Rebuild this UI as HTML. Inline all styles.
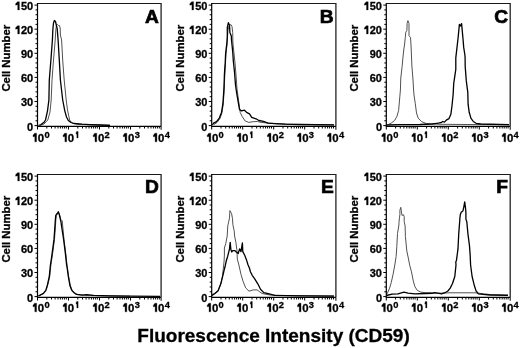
<!DOCTYPE html>
<html><head><meta charset="utf-8"><style>
html,body{margin:0;padding:0;background:#fff;}
body{width:520px;height:348px;overflow:hidden;}
svg{display:block;filter:blur(0.3px);}
text{font-family:"Liberation Sans",sans-serif;font-weight:bold;fill:#000;stroke:#000;stroke-width:0.3px;}
</style></head><body>
<svg width="520" height="348" viewBox="0 0 520 348">
<polyline points="40.00,125.50 44.00,124.00 47.80,120.00 50.00,112.00 51.20,100.00 52.00,80.00 53.50,60.00 55.20,40.00 55.80,30.00 56.50,25.00 57.50,24.50 58.50,25.50 59.40,25.40 60.20,28.00 60.40,35.00 61.60,40.00 62.70,60.00 64.20,80.00 66.20,100.00 67.50,110.00 69.60,120.00 72.00,123.00 78.00,124.30 90.00,124.80 110.00,125.20" fill="none" stroke="#505050" stroke-width="1.0" stroke-linejoin="round"/>
<polyline points="38.50,125.50 41.00,124.50 44.00,122.30 45.50,120.00 47.50,110.80 48.90,100.00 49.30,80.00 50.90,60.00 52.40,40.00 52.90,29.00 53.50,23.00 54.40,20.50 55.50,21.50 56.30,25.00 57.20,28.60 58.10,40.00 59.30,60.00 60.40,80.00 62.70,100.00 64.80,110.80 66.50,117.00 68.30,120.50 71.00,122.50 74.00,123.50 82.00,124.20 90.00,124.60 100.00,125.00 110.00,125.30" fill="none" stroke="#000" stroke-width="1.3" stroke-linejoin="round"/>
<path d="M37.5 3.5H161.1" fill="none" stroke="#1a1a1a" stroke-width="1"/>
<path d="M161.1 3.1V126.3" fill="none" stroke="#222" stroke-width="1.3"/>
<path d="M37.5 3.0V126.3H161.1" fill="none" stroke="#000" stroke-width="1.2"/>
<path d="M34.50 125.60H37.5 M35.50 120.78H37.5 M35.50 115.96H37.5 M35.50 111.14H37.5 M35.50 106.32H37.5 M34.50 101.50H37.5 M35.50 96.68H37.5 M35.50 91.86H37.5 M35.50 87.04H37.5 M35.50 82.22H37.5 M34.50 77.40H37.5 M35.50 72.58H37.5 M35.50 67.76H37.5 M35.50 62.94H37.5 M35.50 58.12H37.5 M34.50 53.30H37.5 M35.50 48.48H37.5 M35.50 43.66H37.5 M35.50 38.84H37.5 M35.50 34.02H37.5 M34.50 29.20H37.5 M35.50 24.38H37.5 M35.50 19.56H37.5 M35.50 14.74H37.5 M35.50 9.92H37.5 M34.50 5.10H37.5 M37.50 126.3V129.50 M46.80 126.3V128.50 M51.50 126.3V128.50 M55.10 126.3V128.50 M58.00 126.3V128.50 M60.40 126.3V128.50 M62.40 126.3V128.50 M64.40 126.3V128.50 M66.30 126.3V128.50 M68.50 126.3V129.50 M77.80 126.3V128.50 M82.50 126.3V128.50 M86.10 126.3V128.50 M89.00 126.3V128.50 M91.40 126.3V128.50 M93.40 126.3V128.50 M95.40 126.3V128.50 M97.30 126.3V128.50 M99.50 126.3V129.50 M108.80 126.3V128.50 M113.50 126.3V128.50 M117.10 126.3V128.50 M120.00 126.3V128.50 M122.40 126.3V128.50 M124.40 126.3V128.50 M126.40 126.3V128.50 M128.30 126.3V128.50 M130.50 126.3V129.50 M139.80 126.3V128.50 M144.50 126.3V128.50 M148.10 126.3V128.50 M151.00 126.3V128.50 M153.40 126.3V128.50 M155.40 126.3V128.50 M157.40 126.3V128.50 M159.30 126.3V128.50 M161.1 126.3V129.8" stroke="#000" stroke-width="1" fill="none"/>
<text x="33.20" y="130.50" text-anchor="end" font-size="11" font-family="Liberation Sans, sans-serif" font-weight="bold">0</text>
<text x="33.20" y="106.40" text-anchor="end" font-size="11" font-family="Liberation Sans, sans-serif" font-weight="bold">30</text>
<text x="33.20" y="82.30" text-anchor="end" font-size="11" font-family="Liberation Sans, sans-serif" font-weight="bold">60</text>
<text x="33.20" y="58.20" text-anchor="end" font-size="11" font-family="Liberation Sans, sans-serif" font-weight="bold">90</text>
<text x="33.20" y="34.10" text-anchor="end" font-size="11" font-family="Liberation Sans, sans-serif" font-weight="bold">20</text>
<polygon points="19.40,25.70 19.40,33.90 17.70,33.90 17.70,28.73 15.60,29.14 15.60,27.75 17.50,25.70" fill="#000" stroke="#000" stroke-width="0.3"/>
<text x="33.20" y="10.00" text-anchor="end" font-size="11" font-family="Liberation Sans, sans-serif" font-weight="bold">50</text>
<polygon points="19.40,1.70 19.40,9.90 17.70,9.90 17.70,4.73 15.60,5.14 15.60,3.75 17.50,1.70" fill="#000" stroke="#000" stroke-width="0.3"/>
<text x="37.77" y="142.30" font-size="11.4" font-family="Liberation Sans, sans-serif" font-weight="bold">0</text>
<polygon points="36.60,133.20 36.60,141.85 34.80,141.85 34.80,136.40 33.00,136.83 33.00,135.36 34.60,133.20" fill="#000" stroke="#000" stroke-width="0.3"/>
<text x="44.40" y="137.90" font-size="9.3" font-family="Liberation Sans, sans-serif" font-weight="bold">0</text>
<text x="67.85" y="142.30" font-size="11.4" font-family="Liberation Sans, sans-serif" font-weight="bold">0</text>
<polygon points="66.68,133.20 66.68,141.85 64.88,141.85 64.88,136.40 63.08,136.83 63.08,135.36 64.68,133.20" fill="#000" stroke="#000" stroke-width="0.3"/>
<polygon points="78.13,131.40 78.13,137.90 76.83,137.90 76.83,133.81 76.03,134.13 76.03,133.03 76.63,131.40" fill="#000" stroke="#000" stroke-width="0.3"/>
<text x="97.93" y="142.30" font-size="11.4" font-family="Liberation Sans, sans-serif" font-weight="bold">0</text>
<polygon points="96.76,133.20 96.76,141.85 94.96,141.85 94.96,136.40 93.16,136.83 93.16,135.36 94.76,133.20" fill="#000" stroke="#000" stroke-width="0.3"/>
<text x="104.56" y="137.90" font-size="9.3" font-family="Liberation Sans, sans-serif" font-weight="bold">2</text>
<text x="128.01" y="142.30" font-size="11.4" font-family="Liberation Sans, sans-serif" font-weight="bold">0</text>
<polygon points="126.84,133.20 126.84,141.85 125.04,141.85 125.04,136.40 123.24,136.83 123.24,135.36 124.84,133.20" fill="#000" stroke="#000" stroke-width="0.3"/>
<text x="134.64" y="137.90" font-size="9.3" font-family="Liberation Sans, sans-serif" font-weight="bold">3</text>
<text x="158.09" y="142.30" font-size="11.4" font-family="Liberation Sans, sans-serif" font-weight="bold">0</text>
<polygon points="156.92,133.20 156.92,141.85 155.12,141.85 155.12,136.40 153.32,136.83 153.32,135.36 154.92,133.20" fill="#000" stroke="#000" stroke-width="0.3"/>
<text x="164.72" y="137.90" font-size="9.3" font-family="Liberation Sans, sans-serif" font-weight="bold">4</text>
<text transform="translate(9.50,58.20) rotate(-90)" text-anchor="middle" font-size="11.35" font-family="Liberation Sans, sans-serif" font-weight="bold">Cell Number</text>
<text x="158.90" y="22.80" text-anchor="end" font-size="19.2" style="stroke-width:0.7px" font-family="Liberation Sans, sans-serif" font-weight="bold">A</text>
<polyline points="214.00,124.50 217.00,122.50 220.00,118.50 222.00,112.50 223.30,103.70 224.20,89.40 224.80,75.00 225.50,63.00 226.00,53.80 226.80,46.90 227.60,36.00 228.00,30.00 229.00,26.00 230.90,24.50 232.00,26.60 232.70,32.40 232.90,43.00 233.80,51.50 235.00,63.00 236.00,75.00 237.00,89.00 238.50,100.00 240.20,112.40 242.30,116.70 245.20,121.00 248.80,122.40 253.10,121.70 257.40,121.50 262.00,122.50 270.00,123.20 280.00,124.00 300.00,124.50 334.00,124.90" fill="none" stroke="#505050" stroke-width="1.0" stroke-linejoin="round"/>
<polyline points="212.50,124.80 213.60,123.10 216.50,121.70 219.30,118.10 221.50,112.40 222.90,103.70 223.90,89.40 224.40,75.00 224.60,71.00 225.20,63.00 225.60,53.80 226.40,46.90 227.00,42.00 227.30,36.00 227.30,27.30 228.40,22.70 229.50,25.20 229.90,32.40 231.30,36.00 231.50,40.00 232.70,51.50 233.30,60.70 234.50,72.00 235.50,85.00 236.50,92.00 238.00,100.90 239.50,109.50 241.60,110.90 244.50,110.20 246.60,112.40 249.50,113.80 251.70,117.40 256.00,118.80 258.90,120.50 263.50,121.30 268.00,123.10 275.00,123.60 285.40,124.20 300.00,124.50 334.00,124.80" fill="none" stroke="#000" stroke-width="1.3" stroke-linejoin="round"/>
<path d="M211.7 3.5H335.9" fill="none" stroke="#1a1a1a" stroke-width="1"/>
<path d="M335.9 3.1V126.3" fill="none" stroke="#222" stroke-width="1.3"/>
<path d="M211.7 3.0V126.3H335.9" fill="none" stroke="#000" stroke-width="1.2"/>
<path d="M208.70 125.60H211.7 M209.70 120.78H211.7 M209.70 115.96H211.7 M209.70 111.14H211.7 M209.70 106.32H211.7 M208.70 101.50H211.7 M209.70 96.68H211.7 M209.70 91.86H211.7 M209.70 87.04H211.7 M209.70 82.22H211.7 M208.70 77.40H211.7 M209.70 72.58H211.7 M209.70 67.76H211.7 M209.70 62.94H211.7 M209.70 58.12H211.7 M208.70 53.30H211.7 M209.70 48.48H211.7 M209.70 43.66H211.7 M209.70 38.84H211.7 M209.70 34.02H211.7 M208.70 29.20H211.7 M209.70 24.38H211.7 M209.70 19.56H211.7 M209.70 14.74H211.7 M209.70 9.92H211.7 M208.70 5.10H211.7 M211.70 126.3V129.50 M221.00 126.3V128.50 M225.70 126.3V128.50 M229.30 126.3V128.50 M232.20 126.3V128.50 M234.60 126.3V128.50 M236.60 126.3V128.50 M238.60 126.3V128.50 M240.50 126.3V128.50 M242.70 126.3V129.50 M252.00 126.3V128.50 M256.70 126.3V128.50 M260.30 126.3V128.50 M263.20 126.3V128.50 M265.60 126.3V128.50 M267.60 126.3V128.50 M269.60 126.3V128.50 M271.50 126.3V128.50 M273.70 126.3V129.50 M283.00 126.3V128.50 M287.70 126.3V128.50 M291.30 126.3V128.50 M294.20 126.3V128.50 M296.60 126.3V128.50 M298.60 126.3V128.50 M300.60 126.3V128.50 M302.50 126.3V128.50 M304.70 126.3V129.50 M314.00 126.3V128.50 M318.70 126.3V128.50 M322.30 126.3V128.50 M325.20 126.3V128.50 M327.60 126.3V128.50 M329.60 126.3V128.50 M331.60 126.3V128.50 M333.50 126.3V128.50 M335.9 126.3V129.8" stroke="#000" stroke-width="1" fill="none"/>
<text x="207.40" y="130.50" text-anchor="end" font-size="11" font-family="Liberation Sans, sans-serif" font-weight="bold">0</text>
<text x="207.40" y="106.40" text-anchor="end" font-size="11" font-family="Liberation Sans, sans-serif" font-weight="bold">30</text>
<text x="207.40" y="82.30" text-anchor="end" font-size="11" font-family="Liberation Sans, sans-serif" font-weight="bold">60</text>
<text x="207.40" y="58.20" text-anchor="end" font-size="11" font-family="Liberation Sans, sans-serif" font-weight="bold">90</text>
<text x="207.40" y="34.10" text-anchor="end" font-size="11" font-family="Liberation Sans, sans-serif" font-weight="bold">20</text>
<polygon points="193.60,25.70 193.60,33.90 191.90,33.90 191.90,28.73 189.80,29.14 189.80,27.75 191.70,25.70" fill="#000" stroke="#000" stroke-width="0.3"/>
<text x="207.40" y="10.00" text-anchor="end" font-size="11" font-family="Liberation Sans, sans-serif" font-weight="bold">50</text>
<polygon points="193.60,1.70 193.60,9.90 191.90,9.90 191.90,4.73 189.80,5.14 189.80,3.75 191.70,1.70" fill="#000" stroke="#000" stroke-width="0.3"/>
<text x="211.97" y="142.30" font-size="11.4" font-family="Liberation Sans, sans-serif" font-weight="bold">0</text>
<polygon points="210.80,133.20 210.80,141.85 209.00,141.85 209.00,136.40 207.20,136.83 207.20,135.36 208.80,133.20" fill="#000" stroke="#000" stroke-width="0.3"/>
<text x="218.60" y="137.90" font-size="9.3" font-family="Liberation Sans, sans-serif" font-weight="bold">0</text>
<text x="242.05" y="142.30" font-size="11.4" font-family="Liberation Sans, sans-serif" font-weight="bold">0</text>
<polygon points="240.88,133.20 240.88,141.85 239.08,141.85 239.08,136.40 237.28,136.83 237.28,135.36 238.88,133.20" fill="#000" stroke="#000" stroke-width="0.3"/>
<polygon points="252.33,131.40 252.33,137.90 251.03,137.90 251.03,133.81 250.23,134.13 250.23,133.03 250.83,131.40" fill="#000" stroke="#000" stroke-width="0.3"/>
<text x="272.13" y="142.30" font-size="11.4" font-family="Liberation Sans, sans-serif" font-weight="bold">0</text>
<polygon points="270.96,133.20 270.96,141.85 269.16,141.85 269.16,136.40 267.36,136.83 267.36,135.36 268.96,133.20" fill="#000" stroke="#000" stroke-width="0.3"/>
<text x="278.76" y="137.90" font-size="9.3" font-family="Liberation Sans, sans-serif" font-weight="bold">2</text>
<text x="302.21" y="142.30" font-size="11.4" font-family="Liberation Sans, sans-serif" font-weight="bold">0</text>
<polygon points="301.04,133.20 301.04,141.85 299.24,141.85 299.24,136.40 297.44,136.83 297.44,135.36 299.04,133.20" fill="#000" stroke="#000" stroke-width="0.3"/>
<text x="308.84" y="137.90" font-size="9.3" font-family="Liberation Sans, sans-serif" font-weight="bold">3</text>
<text x="332.29" y="142.30" font-size="11.4" font-family="Liberation Sans, sans-serif" font-weight="bold">0</text>
<polygon points="331.12,133.20 331.12,141.85 329.32,141.85 329.32,136.40 327.52,136.83 327.52,135.36 329.12,133.20" fill="#000" stroke="#000" stroke-width="0.3"/>
<text x="338.92" y="137.90" font-size="9.3" font-family="Liberation Sans, sans-serif" font-weight="bold">4</text>
<text transform="translate(183.70,58.20) rotate(-90)" text-anchor="middle" font-size="11.35" font-family="Liberation Sans, sans-serif" font-weight="bold">Cell Number</text>
<text x="333.70" y="22.80" text-anchor="end" font-size="19.2" style="stroke-width:0.7px" font-family="Liberation Sans, sans-serif" font-weight="bold">B</text>
<polyline points="388.30,124.50 391.70,122.80 394.60,120.50 396.90,116.40 398.60,110.70 399.80,96.90 400.40,90.00 400.80,78.00 402.10,66.60 403.20,55.00 404.00,47.90 404.50,45.00 405.30,37.40 405.80,32.20 406.90,30.50 407.10,23.60 407.90,20.60 409.00,23.60 409.00,35.70 410.50,37.40 411.00,45.00 411.10,47.00 411.90,66.00 413.00,80.00 413.60,90.00 414.00,95.00 415.30,103.80 416.50,113.00 418.20,118.20 421.60,121.60 426.20,123.50 440.00,124.30 509.00,124.80" fill="none" stroke="#505050" stroke-width="1.0" stroke-linejoin="round"/>
<polyline points="386.50,125.00 400.00,124.70 420.00,124.50 432.30,124.00 436.90,123.30 441.00,122.70 442.70,121.50 444.40,122.10 446.70,119.80 449.00,118.60 450.80,114.60 451.90,106.50 453.10,95.00 453.70,83.70 455.80,69.40 455.80,57.90 457.00,47.40 458.00,38.70 459.40,24.40 460.50,26.00 461.60,23.60 463.00,38.70 463.70,47.40 464.90,55.00 465.10,57.40 465.20,66.50 466.30,80.90 467.80,92.40 468.10,104.20 469.20,112.30 470.90,118.10 473.30,121.50 476.10,123.30 480.70,124.00 509.00,124.60" fill="none" stroke="#000" stroke-width="1.3" stroke-linejoin="round"/>
<path d="M386.3 3.5H510.2" fill="none" stroke="#1a1a1a" stroke-width="1"/>
<path d="M510.2 3.1V126.3" fill="none" stroke="#222" stroke-width="1.3"/>
<path d="M386.3 3.0V126.3H510.2" fill="none" stroke="#000" stroke-width="1.2"/>
<path d="M383.30 125.60H386.3 M384.30 120.78H386.3 M384.30 115.96H386.3 M384.30 111.14H386.3 M384.30 106.32H386.3 M383.30 101.50H386.3 M384.30 96.68H386.3 M384.30 91.86H386.3 M384.30 87.04H386.3 M384.30 82.22H386.3 M383.30 77.40H386.3 M384.30 72.58H386.3 M384.30 67.76H386.3 M384.30 62.94H386.3 M384.30 58.12H386.3 M383.30 53.30H386.3 M384.30 48.48H386.3 M384.30 43.66H386.3 M384.30 38.84H386.3 M384.30 34.02H386.3 M383.30 29.20H386.3 M384.30 24.38H386.3 M384.30 19.56H386.3 M384.30 14.74H386.3 M384.30 9.92H386.3 M383.30 5.10H386.3 M386.30 126.3V129.50 M395.60 126.3V128.50 M400.30 126.3V128.50 M403.90 126.3V128.50 M406.80 126.3V128.50 M409.20 126.3V128.50 M411.20 126.3V128.50 M413.20 126.3V128.50 M415.10 126.3V128.50 M417.30 126.3V129.50 M426.60 126.3V128.50 M431.30 126.3V128.50 M434.90 126.3V128.50 M437.80 126.3V128.50 M440.20 126.3V128.50 M442.20 126.3V128.50 M444.20 126.3V128.50 M446.10 126.3V128.50 M448.30 126.3V129.50 M457.60 126.3V128.50 M462.30 126.3V128.50 M465.90 126.3V128.50 M468.80 126.3V128.50 M471.20 126.3V128.50 M473.20 126.3V128.50 M475.20 126.3V128.50 M477.10 126.3V128.50 M479.30 126.3V129.50 M488.60 126.3V128.50 M493.30 126.3V128.50 M496.90 126.3V128.50 M499.80 126.3V128.50 M502.20 126.3V128.50 M504.20 126.3V128.50 M506.20 126.3V128.50 M508.10 126.3V128.50 M510.2 126.3V129.8" stroke="#000" stroke-width="1" fill="none"/>
<text x="382.00" y="130.50" text-anchor="end" font-size="11" font-family="Liberation Sans, sans-serif" font-weight="bold">0</text>
<text x="382.00" y="106.40" text-anchor="end" font-size="11" font-family="Liberation Sans, sans-serif" font-weight="bold">30</text>
<text x="382.00" y="82.30" text-anchor="end" font-size="11" font-family="Liberation Sans, sans-serif" font-weight="bold">60</text>
<text x="382.00" y="58.20" text-anchor="end" font-size="11" font-family="Liberation Sans, sans-serif" font-weight="bold">90</text>
<text x="382.00" y="34.10" text-anchor="end" font-size="11" font-family="Liberation Sans, sans-serif" font-weight="bold">20</text>
<polygon points="368.20,25.70 368.20,33.90 366.50,33.90 366.50,28.73 364.40,29.14 364.40,27.75 366.30,25.70" fill="#000" stroke="#000" stroke-width="0.3"/>
<text x="382.00" y="10.00" text-anchor="end" font-size="11" font-family="Liberation Sans, sans-serif" font-weight="bold">50</text>
<polygon points="368.20,1.70 368.20,9.90 366.50,9.90 366.50,4.73 364.40,5.14 364.40,3.75 366.30,1.70" fill="#000" stroke="#000" stroke-width="0.3"/>
<text x="386.57" y="142.30" font-size="11.4" font-family="Liberation Sans, sans-serif" font-weight="bold">0</text>
<polygon points="385.40,133.20 385.40,141.85 383.60,141.85 383.60,136.40 381.80,136.83 381.80,135.36 383.40,133.20" fill="#000" stroke="#000" stroke-width="0.3"/>
<text x="393.20" y="137.90" font-size="9.3" font-family="Liberation Sans, sans-serif" font-weight="bold">0</text>
<text x="416.65" y="142.30" font-size="11.4" font-family="Liberation Sans, sans-serif" font-weight="bold">0</text>
<polygon points="415.48,133.20 415.48,141.85 413.68,141.85 413.68,136.40 411.88,136.83 411.88,135.36 413.48,133.20" fill="#000" stroke="#000" stroke-width="0.3"/>
<polygon points="426.93,131.40 426.93,137.90 425.63,137.90 425.63,133.81 424.83,134.13 424.83,133.03 425.43,131.40" fill="#000" stroke="#000" stroke-width="0.3"/>
<text x="446.73" y="142.30" font-size="11.4" font-family="Liberation Sans, sans-serif" font-weight="bold">0</text>
<polygon points="445.56,133.20 445.56,141.85 443.76,141.85 443.76,136.40 441.96,136.83 441.96,135.36 443.56,133.20" fill="#000" stroke="#000" stroke-width="0.3"/>
<text x="453.36" y="137.90" font-size="9.3" font-family="Liberation Sans, sans-serif" font-weight="bold">2</text>
<text x="476.81" y="142.30" font-size="11.4" font-family="Liberation Sans, sans-serif" font-weight="bold">0</text>
<polygon points="475.64,133.20 475.64,141.85 473.84,141.85 473.84,136.40 472.04,136.83 472.04,135.36 473.64,133.20" fill="#000" stroke="#000" stroke-width="0.3"/>
<text x="483.44" y="137.90" font-size="9.3" font-family="Liberation Sans, sans-serif" font-weight="bold">3</text>
<text x="506.89" y="142.30" font-size="11.4" font-family="Liberation Sans, sans-serif" font-weight="bold">0</text>
<polygon points="505.72,133.20 505.72,141.85 503.92,141.85 503.92,136.40 502.12,136.83 502.12,135.36 503.72,133.20" fill="#000" stroke="#000" stroke-width="0.3"/>
<text x="513.52" y="137.90" font-size="9.3" font-family="Liberation Sans, sans-serif" font-weight="bold">4</text>
<text transform="translate(358.30,58.20) rotate(-90)" text-anchor="middle" font-size="11.35" font-family="Liberation Sans, sans-serif" font-weight="bold">Cell Number</text>
<text x="508.00" y="22.80" text-anchor="end" font-size="19.2" style="stroke-width:0.7px" font-family="Liberation Sans, sans-serif" font-weight="bold">C</text>
<polyline points="39.00,296.00 41.50,294.50 44.00,292.80 46.30,289.80 48.00,284.00 49.80,276.00 50.90,265.00 52.60,253.70 54.50,239.40 55.50,225.00 55.90,219.40 56.30,215.40 57.00,214.50 57.80,213.00 58.60,212.50 59.80,215.50 60.80,219.40 62.20,220.80 62.60,225.00 64.00,239.40 65.80,253.70 67.00,265.00 68.70,276.50 70.40,285.80 72.20,290.40 74.50,292.70 77.00,294.40 85.00,295.30 100.00,295.80 130.00,296.20" fill="none" stroke="#505050" stroke-width="1.0" stroke-linejoin="round"/>
<polyline points="38.30,296.00 40.60,294.80 43.50,293.30 45.80,290.40 47.50,284.60 49.30,276.50 50.40,265.00 51.50,258.00 52.10,253.70 54.00,239.40 55.00,225.00 55.40,219.40 55.80,215.40 56.80,214.00 57.50,213.00 58.30,211.80 59.40,215.00 60.40,219.40 61.00,222.00 61.40,225.00 63.60,239.40 65.40,253.70 66.60,265.00 67.20,268.10 68.30,276.50 70.00,285.80 71.80,290.40 74.10,292.70 76.40,294.40 82.10,295.20 86.70,294.60 93.70,295.30 110.00,295.80 130.00,296.20 160.00,296.30" fill="none" stroke="#000" stroke-width="1.3" stroke-linejoin="round"/>
<path d="M37.5 174.5H161.1" fill="none" stroke="#1a1a1a" stroke-width="1"/>
<path d="M161.1 174.1V297.3" fill="none" stroke="#222" stroke-width="1.3"/>
<path d="M37.5 174.0V297.3H161.1" fill="none" stroke="#000" stroke-width="1.2"/>
<path d="M34.50 296.60H37.5 M35.50 291.78H37.5 M35.50 286.96H37.5 M35.50 282.14H37.5 M35.50 277.32H37.5 M34.50 272.50H37.5 M35.50 267.68H37.5 M35.50 262.86H37.5 M35.50 258.04H37.5 M35.50 253.22H37.5 M34.50 248.40H37.5 M35.50 243.58H37.5 M35.50 238.76H37.5 M35.50 233.94H37.5 M35.50 229.12H37.5 M34.50 224.30H37.5 M35.50 219.48H37.5 M35.50 214.66H37.5 M35.50 209.84H37.5 M35.50 205.02H37.5 M34.50 200.20H37.5 M35.50 195.38H37.5 M35.50 190.56H37.5 M35.50 185.74H37.5 M35.50 180.92H37.5 M34.50 176.10H37.5 M37.50 297.3V300.50 M46.80 297.3V299.50 M51.50 297.3V299.50 M55.10 297.3V299.50 M58.00 297.3V299.50 M60.40 297.3V299.50 M62.40 297.3V299.50 M64.40 297.3V299.50 M66.30 297.3V299.50 M68.50 297.3V300.50 M77.80 297.3V299.50 M82.50 297.3V299.50 M86.10 297.3V299.50 M89.00 297.3V299.50 M91.40 297.3V299.50 M93.40 297.3V299.50 M95.40 297.3V299.50 M97.30 297.3V299.50 M99.50 297.3V300.50 M108.80 297.3V299.50 M113.50 297.3V299.50 M117.10 297.3V299.50 M120.00 297.3V299.50 M122.40 297.3V299.50 M124.40 297.3V299.50 M126.40 297.3V299.50 M128.30 297.3V299.50 M130.50 297.3V300.50 M139.80 297.3V299.50 M144.50 297.3V299.50 M148.10 297.3V299.50 M151.00 297.3V299.50 M153.40 297.3V299.50 M155.40 297.3V299.50 M157.40 297.3V299.50 M159.30 297.3V299.50 M161.1 297.3V300.8" stroke="#000" stroke-width="1" fill="none"/>
<text x="33.20" y="301.50" text-anchor="end" font-size="11" font-family="Liberation Sans, sans-serif" font-weight="bold">0</text>
<text x="33.20" y="277.40" text-anchor="end" font-size="11" font-family="Liberation Sans, sans-serif" font-weight="bold">30</text>
<text x="33.20" y="253.30" text-anchor="end" font-size="11" font-family="Liberation Sans, sans-serif" font-weight="bold">60</text>
<text x="33.20" y="229.20" text-anchor="end" font-size="11" font-family="Liberation Sans, sans-serif" font-weight="bold">90</text>
<text x="33.20" y="205.10" text-anchor="end" font-size="11" font-family="Liberation Sans, sans-serif" font-weight="bold">20</text>
<polygon points="19.40,196.70 19.40,204.90 17.70,204.90 17.70,199.73 15.60,200.14 15.60,198.75 17.50,196.70" fill="#000" stroke="#000" stroke-width="0.3"/>
<text x="33.20" y="181.00" text-anchor="end" font-size="11" font-family="Liberation Sans, sans-serif" font-weight="bold">50</text>
<polygon points="19.40,172.70 19.40,180.90 17.70,180.90 17.70,175.73 15.60,176.14 15.60,174.75 17.50,172.70" fill="#000" stroke="#000" stroke-width="0.3"/>
<text x="37.77" y="312.30" font-size="11.4" font-family="Liberation Sans, sans-serif" font-weight="bold">0</text>
<polygon points="36.60,303.20 36.60,311.85 34.80,311.85 34.80,306.40 33.00,306.83 33.00,305.36 34.60,303.20" fill="#000" stroke="#000" stroke-width="0.3"/>
<text x="44.40" y="307.90" font-size="9.3" font-family="Liberation Sans, sans-serif" font-weight="bold">0</text>
<text x="67.85" y="312.30" font-size="11.4" font-family="Liberation Sans, sans-serif" font-weight="bold">0</text>
<polygon points="66.68,303.20 66.68,311.85 64.88,311.85 64.88,306.40 63.08,306.83 63.08,305.36 64.68,303.20" fill="#000" stroke="#000" stroke-width="0.3"/>
<polygon points="78.13,301.40 78.13,307.90 76.83,307.90 76.83,303.80 76.03,304.13 76.03,303.02 76.63,301.40" fill="#000" stroke="#000" stroke-width="0.3"/>
<text x="97.93" y="312.30" font-size="11.4" font-family="Liberation Sans, sans-serif" font-weight="bold">0</text>
<polygon points="96.76,303.20 96.76,311.85 94.96,311.85 94.96,306.40 93.16,306.83 93.16,305.36 94.76,303.20" fill="#000" stroke="#000" stroke-width="0.3"/>
<text x="104.56" y="307.90" font-size="9.3" font-family="Liberation Sans, sans-serif" font-weight="bold">2</text>
<text x="128.01" y="312.30" font-size="11.4" font-family="Liberation Sans, sans-serif" font-weight="bold">0</text>
<polygon points="126.84,303.20 126.84,311.85 125.04,311.85 125.04,306.40 123.24,306.83 123.24,305.36 124.84,303.20" fill="#000" stroke="#000" stroke-width="0.3"/>
<text x="134.64" y="307.90" font-size="9.3" font-family="Liberation Sans, sans-serif" font-weight="bold">3</text>
<text x="158.09" y="312.30" font-size="11.4" font-family="Liberation Sans, sans-serif" font-weight="bold">0</text>
<polygon points="156.92,303.20 156.92,311.85 155.12,311.85 155.12,306.40 153.32,306.83 153.32,305.36 154.92,303.20" fill="#000" stroke="#000" stroke-width="0.3"/>
<text x="164.72" y="307.90" font-size="9.3" font-family="Liberation Sans, sans-serif" font-weight="bold">4</text>
<text transform="translate(9.50,229.20) rotate(-90)" text-anchor="middle" font-size="11.35" font-family="Liberation Sans, sans-serif" font-weight="bold">Cell Number</text>
<text x="158.90" y="193.10" text-anchor="end" font-size="19.2" style="stroke-width:0.7px" font-family="Liberation Sans, sans-serif" font-weight="bold">D</text>
<polyline points="212.00,294.60 214.70,293.30 218.10,290.60 220.80,283.80 222.30,277.00 223.30,268.80 224.00,262.00 224.40,255.00 224.40,248.00 225.80,243.40 227.20,236.00 227.80,225.70 228.60,222.20 229.50,217.90 229.90,210.60 231.60,213.60 232.50,218.80 232.90,224.80 234.20,230.90 234.60,236.00 235.90,242.40 236.90,249.80 237.30,259.00 238.90,265.00 241.00,274.40 243.00,281.20 245.70,287.90 249.00,291.20 253.10,289.90 257.10,289.90 259.80,291.90 262.00,293.50 270.00,295.00 290.00,295.60 334.00,296.00" fill="none" stroke="#505050" stroke-width="1.0" stroke-linejoin="round"/>
<polyline points="212.00,295.50 214.70,293.80 218.10,290.80 220.80,283.80 222.80,275.80 224.40,269.00 224.90,267.30 226.30,260.80 227.70,256.20 228.60,252.60 229.50,248.90 230.20,242.40 230.90,249.80 231.80,252.00 232.70,250.70 235.00,250.70 236.40,252.10 238.20,253.50 239.60,248.90 241.00,251.60 242.40,242.90 242.80,251.60 244.70,255.30 246.50,259.90 247.90,264.50 249.40,268.00 250.40,271.70 252.20,275.30 254.40,278.30 257.80,283.80 260.50,289.20 263.80,292.60 269.20,293.90 274.60,295.30 300.00,295.80 334.00,296.20" fill="none" stroke="#000" stroke-width="1.3" stroke-linejoin="round"/>
<path d="M211.7 174.5H335.9" fill="none" stroke="#1a1a1a" stroke-width="1"/>
<path d="M335.9 174.1V297.3" fill="none" stroke="#222" stroke-width="1.3"/>
<path d="M211.7 174.0V297.3H335.9" fill="none" stroke="#000" stroke-width="1.2"/>
<path d="M208.70 296.60H211.7 M209.70 291.78H211.7 M209.70 286.96H211.7 M209.70 282.14H211.7 M209.70 277.32H211.7 M208.70 272.50H211.7 M209.70 267.68H211.7 M209.70 262.86H211.7 M209.70 258.04H211.7 M209.70 253.22H211.7 M208.70 248.40H211.7 M209.70 243.58H211.7 M209.70 238.76H211.7 M209.70 233.94H211.7 M209.70 229.12H211.7 M208.70 224.30H211.7 M209.70 219.48H211.7 M209.70 214.66H211.7 M209.70 209.84H211.7 M209.70 205.02H211.7 M208.70 200.20H211.7 M209.70 195.38H211.7 M209.70 190.56H211.7 M209.70 185.74H211.7 M209.70 180.92H211.7 M208.70 176.10H211.7 M211.70 297.3V300.50 M221.00 297.3V299.50 M225.70 297.3V299.50 M229.30 297.3V299.50 M232.20 297.3V299.50 M234.60 297.3V299.50 M236.60 297.3V299.50 M238.60 297.3V299.50 M240.50 297.3V299.50 M242.70 297.3V300.50 M252.00 297.3V299.50 M256.70 297.3V299.50 M260.30 297.3V299.50 M263.20 297.3V299.50 M265.60 297.3V299.50 M267.60 297.3V299.50 M269.60 297.3V299.50 M271.50 297.3V299.50 M273.70 297.3V300.50 M283.00 297.3V299.50 M287.70 297.3V299.50 M291.30 297.3V299.50 M294.20 297.3V299.50 M296.60 297.3V299.50 M298.60 297.3V299.50 M300.60 297.3V299.50 M302.50 297.3V299.50 M304.70 297.3V300.50 M314.00 297.3V299.50 M318.70 297.3V299.50 M322.30 297.3V299.50 M325.20 297.3V299.50 M327.60 297.3V299.50 M329.60 297.3V299.50 M331.60 297.3V299.50 M333.50 297.3V299.50 M335.9 297.3V300.8" stroke="#000" stroke-width="1" fill="none"/>
<text x="207.40" y="301.50" text-anchor="end" font-size="11" font-family="Liberation Sans, sans-serif" font-weight="bold">0</text>
<text x="207.40" y="277.40" text-anchor="end" font-size="11" font-family="Liberation Sans, sans-serif" font-weight="bold">30</text>
<text x="207.40" y="253.30" text-anchor="end" font-size="11" font-family="Liberation Sans, sans-serif" font-weight="bold">60</text>
<text x="207.40" y="229.20" text-anchor="end" font-size="11" font-family="Liberation Sans, sans-serif" font-weight="bold">90</text>
<text x="207.40" y="205.10" text-anchor="end" font-size="11" font-family="Liberation Sans, sans-serif" font-weight="bold">20</text>
<polygon points="193.60,196.70 193.60,204.90 191.90,204.90 191.90,199.73 189.80,200.14 189.80,198.75 191.70,196.70" fill="#000" stroke="#000" stroke-width="0.3"/>
<text x="207.40" y="181.00" text-anchor="end" font-size="11" font-family="Liberation Sans, sans-serif" font-weight="bold">50</text>
<polygon points="193.60,172.70 193.60,180.90 191.90,180.90 191.90,175.73 189.80,176.14 189.80,174.75 191.70,172.70" fill="#000" stroke="#000" stroke-width="0.3"/>
<text x="211.97" y="312.30" font-size="11.4" font-family="Liberation Sans, sans-serif" font-weight="bold">0</text>
<polygon points="210.80,303.20 210.80,311.85 209.00,311.85 209.00,306.40 207.20,306.83 207.20,305.36 208.80,303.20" fill="#000" stroke="#000" stroke-width="0.3"/>
<text x="218.60" y="307.90" font-size="9.3" font-family="Liberation Sans, sans-serif" font-weight="bold">0</text>
<text x="242.05" y="312.30" font-size="11.4" font-family="Liberation Sans, sans-serif" font-weight="bold">0</text>
<polygon points="240.88,303.20 240.88,311.85 239.08,311.85 239.08,306.40 237.28,306.83 237.28,305.36 238.88,303.20" fill="#000" stroke="#000" stroke-width="0.3"/>
<polygon points="252.33,301.40 252.33,307.90 251.03,307.90 251.03,303.80 250.23,304.13 250.23,303.02 250.83,301.40" fill="#000" stroke="#000" stroke-width="0.3"/>
<text x="272.13" y="312.30" font-size="11.4" font-family="Liberation Sans, sans-serif" font-weight="bold">0</text>
<polygon points="270.96,303.20 270.96,311.85 269.16,311.85 269.16,306.40 267.36,306.83 267.36,305.36 268.96,303.20" fill="#000" stroke="#000" stroke-width="0.3"/>
<text x="278.76" y="307.90" font-size="9.3" font-family="Liberation Sans, sans-serif" font-weight="bold">2</text>
<text x="302.21" y="312.30" font-size="11.4" font-family="Liberation Sans, sans-serif" font-weight="bold">0</text>
<polygon points="301.04,303.20 301.04,311.85 299.24,311.85 299.24,306.40 297.44,306.83 297.44,305.36 299.04,303.20" fill="#000" stroke="#000" stroke-width="0.3"/>
<text x="308.84" y="307.90" font-size="9.3" font-family="Liberation Sans, sans-serif" font-weight="bold">3</text>
<text x="332.29" y="312.30" font-size="11.4" font-family="Liberation Sans, sans-serif" font-weight="bold">0</text>
<polygon points="331.12,303.20 331.12,311.85 329.32,311.85 329.32,306.40 327.52,306.83 327.52,305.36 329.12,303.20" fill="#000" stroke="#000" stroke-width="0.3"/>
<text x="338.92" y="307.90" font-size="9.3" font-family="Liberation Sans, sans-serif" font-weight="bold">4</text>
<text transform="translate(183.70,229.20) rotate(-90)" text-anchor="middle" font-size="11.35" font-family="Liberation Sans, sans-serif" font-weight="bold">Cell Number</text>
<text x="333.70" y="193.10" text-anchor="end" font-size="19.2" style="stroke-width:0.7px" font-family="Liberation Sans, sans-serif" font-weight="bold">E</text>
<polyline points="386.70,294.40 387.90,292.10 389.60,288.10 391.30,282.30 393.10,274.20 394.80,265.00 396.10,256.60 396.80,246.60 397.50,233.60 398.90,225.00 399.00,222.40 399.50,217.20 399.90,214.70 399.90,210.30 400.80,207.30 401.60,212.90 402.10,215.50 403.40,214.70 404.20,216.40 404.20,221.60 405.10,225.90 405.40,236.50 406.80,250.90 408.30,258.00 409.70,265.20 411.50,271.90 413.30,281.10 415.00,286.90 417.30,290.40 420.80,292.10 425.40,292.70 431.10,292.70 437.00,293.30 450.00,292.80 475.00,292.80 490.00,294.50 508.00,295.00" fill="none" stroke="#505050" stroke-width="1.0" stroke-linejoin="round"/>
<polyline points="386.50,295.50 392.00,294.20 398.00,293.80 404.00,292.10 408.00,293.20 415.00,293.80 425.00,293.50 432.30,293.30 434.60,292.70 439.20,293.30 441.50,293.80 445.00,292.70 447.90,291.00 450.20,288.10 452.50,283.50 454.80,276.50 456.00,265.00 455.80,262.00 456.50,260.20 458.00,248.70 458.70,234.40 459.80,220.00 459.90,218.00 460.30,214.80 461.20,212.20 462.90,210.90 463.80,207.10 464.70,201.90 465.50,207.90 465.90,212.20 465.90,219.10 466.80,221.70 468.00,234.40 469.50,245.90 470.20,255.90 470.60,265.00 472.10,276.50 474.40,285.80 476.10,291.00 478.40,293.80 483.10,294.40 490.00,295.00 508.00,295.30" fill="none" stroke="#000" stroke-width="1.3" stroke-linejoin="round"/>
<path d="M386.3 174.5H510.2" fill="none" stroke="#1a1a1a" stroke-width="1"/>
<path d="M510.2 174.1V297.3" fill="none" stroke="#222" stroke-width="1.3"/>
<path d="M386.3 174.0V297.3H510.2" fill="none" stroke="#000" stroke-width="1.2"/>
<path d="M383.30 296.60H386.3 M384.30 291.78H386.3 M384.30 286.96H386.3 M384.30 282.14H386.3 M384.30 277.32H386.3 M383.30 272.50H386.3 M384.30 267.68H386.3 M384.30 262.86H386.3 M384.30 258.04H386.3 M384.30 253.22H386.3 M383.30 248.40H386.3 M384.30 243.58H386.3 M384.30 238.76H386.3 M384.30 233.94H386.3 M384.30 229.12H386.3 M383.30 224.30H386.3 M384.30 219.48H386.3 M384.30 214.66H386.3 M384.30 209.84H386.3 M384.30 205.02H386.3 M383.30 200.20H386.3 M384.30 195.38H386.3 M384.30 190.56H386.3 M384.30 185.74H386.3 M384.30 180.92H386.3 M383.30 176.10H386.3 M386.30 297.3V300.50 M395.60 297.3V299.50 M400.30 297.3V299.50 M403.90 297.3V299.50 M406.80 297.3V299.50 M409.20 297.3V299.50 M411.20 297.3V299.50 M413.20 297.3V299.50 M415.10 297.3V299.50 M417.30 297.3V300.50 M426.60 297.3V299.50 M431.30 297.3V299.50 M434.90 297.3V299.50 M437.80 297.3V299.50 M440.20 297.3V299.50 M442.20 297.3V299.50 M444.20 297.3V299.50 M446.10 297.3V299.50 M448.30 297.3V300.50 M457.60 297.3V299.50 M462.30 297.3V299.50 M465.90 297.3V299.50 M468.80 297.3V299.50 M471.20 297.3V299.50 M473.20 297.3V299.50 M475.20 297.3V299.50 M477.10 297.3V299.50 M479.30 297.3V300.50 M488.60 297.3V299.50 M493.30 297.3V299.50 M496.90 297.3V299.50 M499.80 297.3V299.50 M502.20 297.3V299.50 M504.20 297.3V299.50 M506.20 297.3V299.50 M508.10 297.3V299.50 M510.2 297.3V300.8" stroke="#000" stroke-width="1" fill="none"/>
<text x="382.00" y="301.50" text-anchor="end" font-size="11" font-family="Liberation Sans, sans-serif" font-weight="bold">0</text>
<text x="382.00" y="277.40" text-anchor="end" font-size="11" font-family="Liberation Sans, sans-serif" font-weight="bold">30</text>
<text x="382.00" y="253.30" text-anchor="end" font-size="11" font-family="Liberation Sans, sans-serif" font-weight="bold">60</text>
<text x="382.00" y="229.20" text-anchor="end" font-size="11" font-family="Liberation Sans, sans-serif" font-weight="bold">90</text>
<text x="382.00" y="205.10" text-anchor="end" font-size="11" font-family="Liberation Sans, sans-serif" font-weight="bold">20</text>
<polygon points="368.20,196.70 368.20,204.90 366.50,204.90 366.50,199.73 364.40,200.14 364.40,198.75 366.30,196.70" fill="#000" stroke="#000" stroke-width="0.3"/>
<text x="382.00" y="181.00" text-anchor="end" font-size="11" font-family="Liberation Sans, sans-serif" font-weight="bold">50</text>
<polygon points="368.20,172.70 368.20,180.90 366.50,180.90 366.50,175.73 364.40,176.14 364.40,174.75 366.30,172.70" fill="#000" stroke="#000" stroke-width="0.3"/>
<text x="386.57" y="312.30" font-size="11.4" font-family="Liberation Sans, sans-serif" font-weight="bold">0</text>
<polygon points="385.40,303.20 385.40,311.85 383.60,311.85 383.60,306.40 381.80,306.83 381.80,305.36 383.40,303.20" fill="#000" stroke="#000" stroke-width="0.3"/>
<text x="393.20" y="307.90" font-size="9.3" font-family="Liberation Sans, sans-serif" font-weight="bold">0</text>
<text x="416.65" y="312.30" font-size="11.4" font-family="Liberation Sans, sans-serif" font-weight="bold">0</text>
<polygon points="415.48,303.20 415.48,311.85 413.68,311.85 413.68,306.40 411.88,306.83 411.88,305.36 413.48,303.20" fill="#000" stroke="#000" stroke-width="0.3"/>
<polygon points="426.93,301.40 426.93,307.90 425.63,307.90 425.63,303.80 424.83,304.13 424.83,303.02 425.43,301.40" fill="#000" stroke="#000" stroke-width="0.3"/>
<text x="446.73" y="312.30" font-size="11.4" font-family="Liberation Sans, sans-serif" font-weight="bold">0</text>
<polygon points="445.56,303.20 445.56,311.85 443.76,311.85 443.76,306.40 441.96,306.83 441.96,305.36 443.56,303.20" fill="#000" stroke="#000" stroke-width="0.3"/>
<text x="453.36" y="307.90" font-size="9.3" font-family="Liberation Sans, sans-serif" font-weight="bold">2</text>
<text x="476.81" y="312.30" font-size="11.4" font-family="Liberation Sans, sans-serif" font-weight="bold">0</text>
<polygon points="475.64,303.20 475.64,311.85 473.84,311.85 473.84,306.40 472.04,306.83 472.04,305.36 473.64,303.20" fill="#000" stroke="#000" stroke-width="0.3"/>
<text x="483.44" y="307.90" font-size="9.3" font-family="Liberation Sans, sans-serif" font-weight="bold">3</text>
<text x="506.89" y="312.30" font-size="11.4" font-family="Liberation Sans, sans-serif" font-weight="bold">0</text>
<polygon points="505.72,303.20 505.72,311.85 503.92,311.85 503.92,306.40 502.12,306.83 502.12,305.36 503.72,303.20" fill="#000" stroke="#000" stroke-width="0.3"/>
<text x="513.52" y="307.90" font-size="9.3" font-family="Liberation Sans, sans-serif" font-weight="bold">4</text>
<text transform="translate(358.30,229.20) rotate(-90)" text-anchor="middle" font-size="11.35" font-family="Liberation Sans, sans-serif" font-weight="bold">Cell Number</text>
<text x="508.00" y="193.10" text-anchor="end" font-size="19.2" style="stroke-width:0.7px" font-family="Liberation Sans, sans-serif" font-weight="bold">F</text>
<text x="137.3" y="342.1" font-size="19">Fluorescence Intensity (CD59)</text>
</svg>
</body></html>
